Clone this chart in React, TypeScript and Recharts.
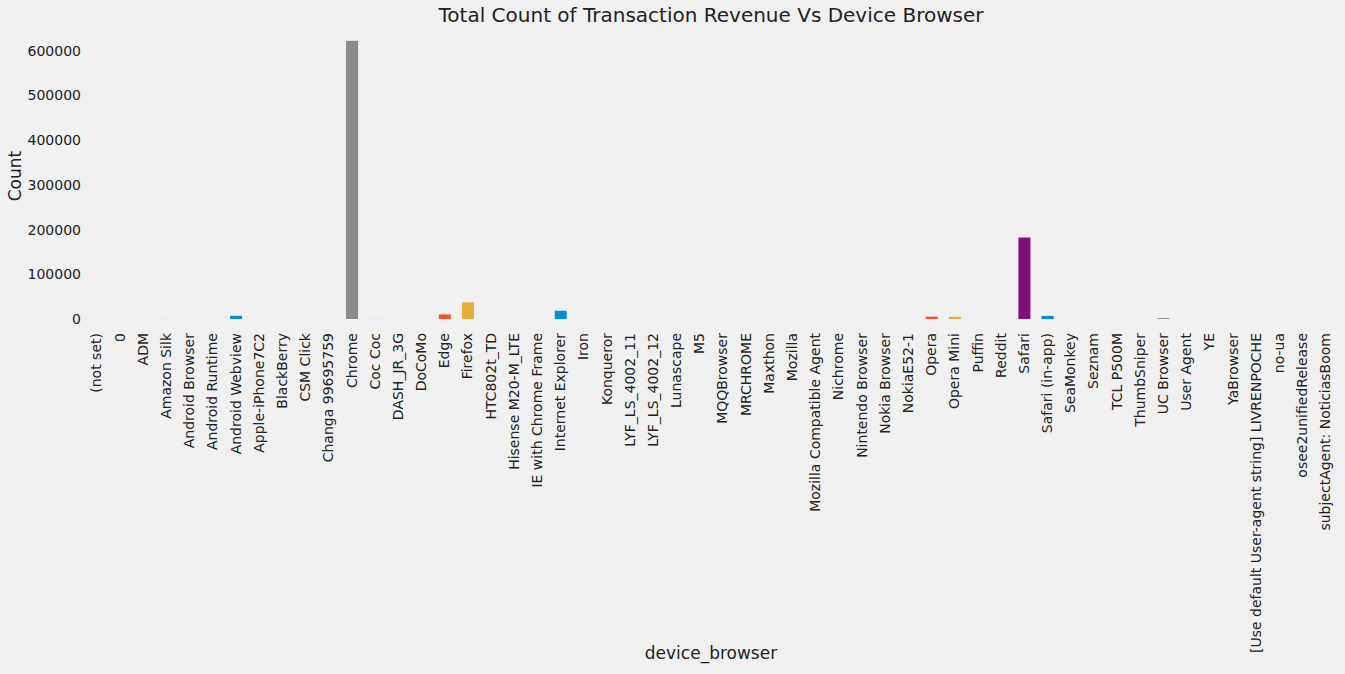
import { BarChart, Bar, XAxis, YAxis, Cell } from 'recharts';

const browsers = [
  '(not set)', '0', 'ADM', 'Amazon Silk', 'Android Browser', 'Android Runtime', 'Android Webview',
  'Apple-iPhone7C2', 'BlackBerry', 'CSM Click', 'Changa 99695759', 'Chrome', 'Coc Coc', 'DASH_JR_3G',
  'DoCoMo', 'Edge', 'Firefox', 'HTC802t_TD', 'Hisense M20-M_LTE', 'IE with Chrome Frame',
  'Internet Explorer', 'Iron', 'Konqueror', 'LYF_LS_4002_11', 'LYF_LS_4002_12', 'Lunascape', 'M5',
  'MQQBrowser', 'MRCHROME', 'Maxthon', 'Mozilla', 'Mozilla Compatible Agent', 'Nichrome',
  'Nintendo Browser', 'Nokia Browser', 'NokiaE52-1', 'Opera', 'Opera Mini', 'Puffin', 'Reddit',
  'Safari', 'Safari (in-app)', 'SeaMonkey', 'Seznam', 'TCL P500M', 'ThumbSniper', 'UC Browser',
  'User Agent', 'YE', 'YaBrowser', '[Use default User-agent string] LIVRENPOCHE', 'no-ua',
  'osee2unifiedRelease', 'subjectAgent: NoticiasBoom',
];

const counts = [
  60, 10, 2, 120, 110, 10, 7100,
  10, 90, 5, 1, 622000, 130, 1,
  5, 10200, 37000, 1, 1, 15,
  18500, 100, 20, 1, 1, 5, 2,
  2, 50, 80, 10, 120, 1,
  20, 10, 2, 5200, 4800, 60, 2,
  182000, 6900, 10, 5, 1, 1, 2000,
  4, 5, 90, 1, 1,
  1, 1,
];

const yTicks = [0, 100000, 200000, 300000, 400000, 500000, 600000];

// colour cycle as it appears in the figure
const palette = ['#008fd5', '#fc4f30', '#e5ae38', '#6d904f', '#8b8b8b', '#810f7c', '#008fd5'];

const data = browsers.map((b, i) => ({ browser: b, count: counts[i] }));

const font = '"DejaVu Sans", sans-serif';

const XTick = ({ x, y, payload }: any) => (
  <text
    x={x}
    y={y + 6}
    transform={`rotate(-90, ${x}, ${y + 6})`}
    textAnchor="end"
    dy="0.35em"
    fontSize={14}
    fontFamily={font}
    fill="#222"
  >
    {payload.value}
  </text>
);

export default function App() {
  return (
    <div style={{ position: 'absolute', left: 0, top: 0, width: 1345, height: 674, background: '#f0f0f0' }}>
      <BarChart
        width={1345}
        height={674}
        data={data}
        margin={{ top: 27, right: 8, bottom: 0, left: 0 }}
        barSize={12}
      >
        <text x={711} y={22} textAnchor="middle" fontSize={20} fontFamily={font} fill="#222">
          Total Count of Transaction Revenue Vs Device Browser
        </text>
        <text
          x={15}
          y={176}
          transform="rotate(-90, 15, 176)"
          textAnchor="middle"
          dy="0.35em"
          fontSize={17}
          fontFamily={font}
          fill="#222"
        >
          Count
        </text>
        <text x={711} y={659} textAnchor="middle" fontSize={17} fontFamily={font} fill="#222">
          device_browser
        </text>
        <XAxis
          dataKey="browser"
          interval={0}
          height={355}
          axisLine={false}
          tickLine={false}
          tick={<XTick />}
        />
        <YAxis
          domain={[0, 653000]}
          ticks={yTicks}
          width={85}
          axisLine={false}
          tickLine={false}
          tickSize={0}
          tickMargin={4}
          tick={{ fontSize: 14, fontFamily: font, fill: '#222' }}
        />
        <Bar dataKey="count" isAnimationActive={false}>
          {data.map((_, i) => (
            <Cell key={i} fill={palette[i % palette.length]} />
          ))}
        </Bar>
      </BarChart>
    </div>
  );
}
